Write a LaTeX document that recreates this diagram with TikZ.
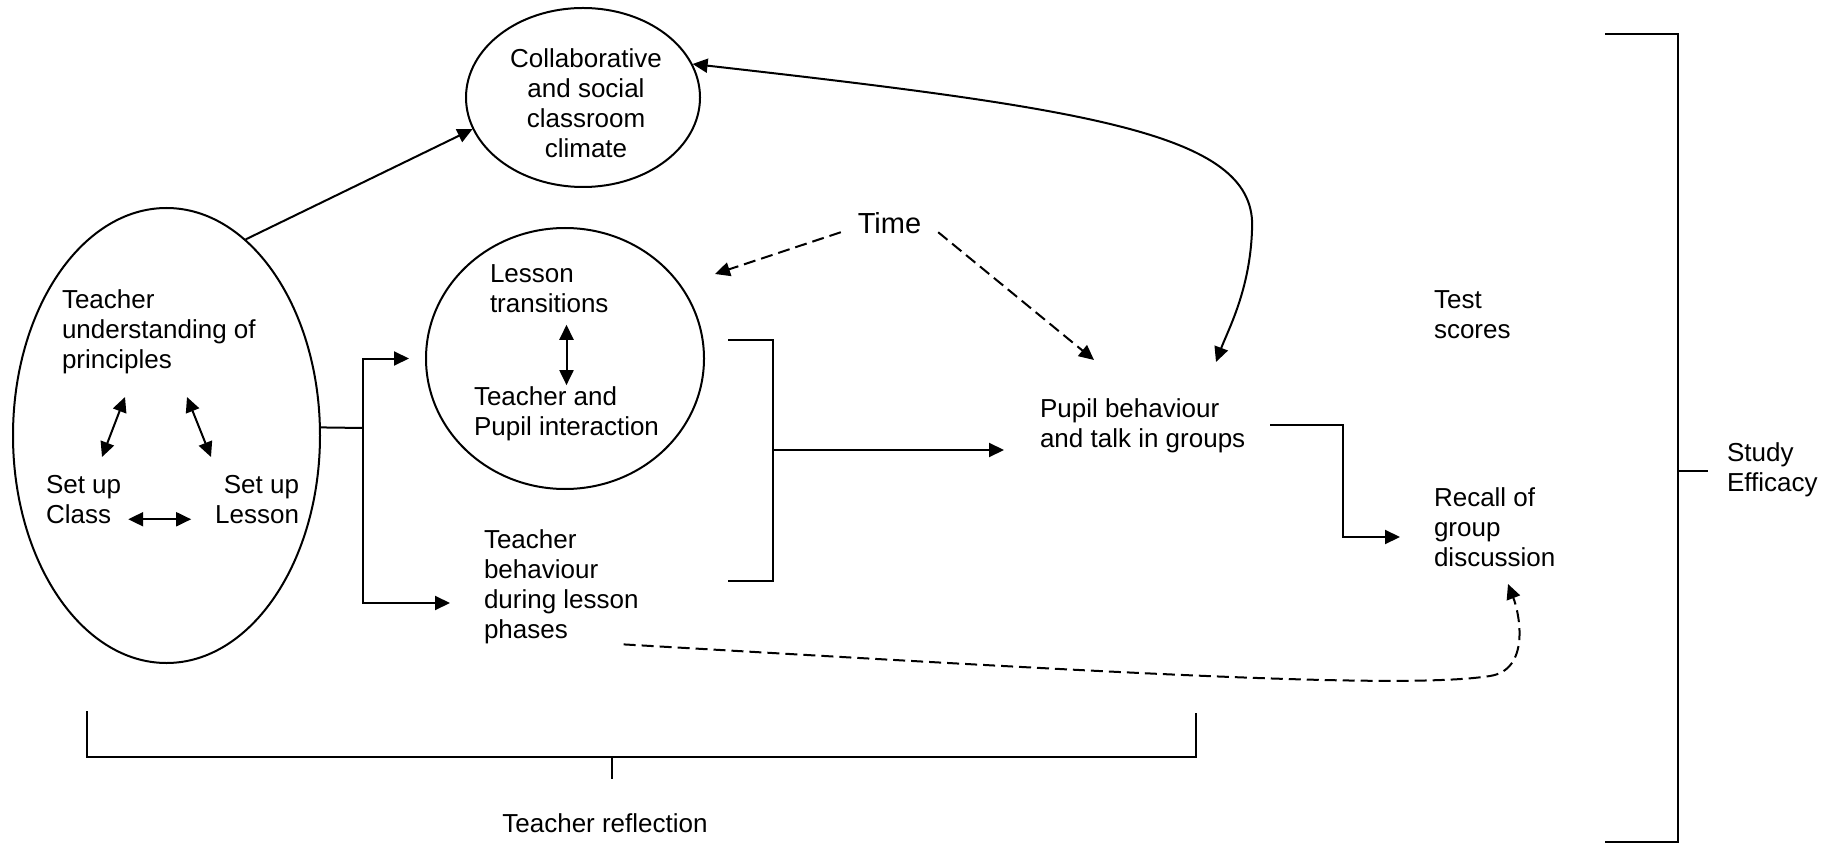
\documentclass[tikz,border=0pt]{standalone}
\usepackage{fontspec}
\setmainfont{Liberation Sans}
\usetikzlibrary{arrows.meta,shapes.geometric}

\begin{document}
\begin{tikzpicture}
      [x = 0.5pt, y = -0.5pt,
      line width = 1pt,
      arr/.style = {-{Triangle[length = 7.5pt, width = 7pt]}},
      arrs/.style = {{Triangle[length = 7.5pt, width = 7pt]}-{Triangle[length = 7.5pt, width = 7pt]}},
      dashline/.style = {dash pattern = on 6pt off 3pt},
      bubble/.style = {
         draw,
         ellipse,
         inner sep = 0pt
      },
      lbl/.style = {
         inner sep = 0pt,
         align = left,
         font = \fontsize{13pt}{15pt}\selectfont
      }]

      \useasboundingbox (0, 0) rectangle (1834, 844);

      % the three ellipses
      \node[bubble, minimum width = 153.5pt, minimum height = 227.5pt] (teach) at (166.5, 435.5) {};
      \node[bubble, minimum width = 117pt, minimum height = 89.5pt] (climate) at (583, 97.5) {};
      \node[bubble, minimum width = 139pt, minimum height = 130.5pt] (lesson) at (565, 358.5) {};

      % texts, placed by the baseline of their last line
      \node[lbl, anchor = base west] (teachU) at (61, 368) {Teacher\\understanding of\\principles};
      \node[lbl, anchor = base west] (setclass) at (45, 523) {Set up\\Class};
      \node[lbl, anchor = base east, align = right] (setlesson) at (300, 523) {Set up\\Lesson};
      \node[lbl, anchor = base, align = center] (climatetxt) at (586, 158) {Collaborative\\and social\\classroom\\climate};
      \node[lbl, anchor = base west] (lessontxt) at (489, 312.5) {Lesson\\transitions};
      \node[lbl, anchor = base west] (interact) at (473, 435) {Teacher and\\Pupil interaction};
      \node[lbl, anchor = base west] (behav) at (483, 638) {Teacher\\behaviour\\during lesson\\phases};
      \node[lbl, anchor = base, inner xsep = 8pt, inner ysep = 3pt,
            font = \fontsize{14.5pt}{17pt}\selectfont] (time) at (889.5, 234) {Time};
      \node[lbl, anchor = base west] (pupil) at (1039, 447) {Pupil behaviour\\and talk in groups};
      \node[lbl, anchor = base west] (test) at (1433, 338) {Test\\scores};
      \node[lbl, anchor = base west] (recall) at (1433, 566) {Recall of\\group\\discussion};
      \node[lbl, anchor = base west] (study) at (1726, 491) {Study\\Efficacy};
      \node[lbl, anchor = base] (reflect) at (605, 832) {Teacher reflection};

      \coordinate (fork) at (363, 428);
      \coordinate (behavIn) at (450, 603);
      \coordinate (lessonT) at (715, 274);
      \coordinate (pupilT) at (1094, 360);
      \coordinate (pupilC) at (1216, 362);
      \coordinate (brTop) at (728, 340);
      \coordinate (brBot) at (728, 581);
      \coordinate (brJoin) at (773, 450);
      \coordinate (pupilL) at (1004, 450);
      \coordinate (elbow) at (1343, 537);
      \coordinate (recallIn) at (1400, 537);
      \coordinate (recallB) at (1508, 584);
      \coordinate (c1) at (102, 457);
      \coordinate (c2) at (125, 397);
      \coordinate (l1) at (187, 397);
      \coordinate (l2) at (211, 457);

      % inside the teacher ellipse
      \draw[arrs] (c1) -- (c2);
      \draw[arrs] (l1) -- (l2);
      \draw[arrs, shorten <= 3pt, shorten >= 11.5pt] ([yshift = 2.5pt]setclass.south east) -- ([yshift = 2.5pt]setlesson.south west);
      \draw[arrs, shorten <= 5.5pt] (lessontxt.south -| interact.north) -- (interact.north);

      \draw[arr] (teach.68) -- (climate.196);
      \draw (teach.3) -- (fork);
      \draw[arr] (fork) |- ([xshift = -8pt]lesson.west);
      \draw[arr] (fork) |- (behavIn);

      \draw[arr, dashline] (time.190) -- (lessonT);
      \draw[arr, dashline] (time.350) -- (pupilT);

      \draw (brTop) -| (brJoin) |- (brBot);
      \draw[arr] (brJoin) -- (pupilL);

      \draw[arrs] (climate.17) .. controls (1100, 110) and (1258, 135) .. (1252, 230)
         .. controls (1250, 290) and (1228, 330) .. (pupilC);

      \draw[arr] ([xshift = 12pt]pupil.east) -| (elbow) -- (recallIn);
      \draw[arr, dashline] ([xshift = -8pt]behav.south east) .. controls (1100, 672) and (1400, 690) .. (1490, 676)
         .. controls (1530, 669.8) and (1520, 615) .. (recallB);

      % brackets
      \draw (87, 711) |- (1196, 757) -- (1196, 713);
      \draw (612, 757) -- (612, 779);
      \draw (1605, 34) -| (1678, 842) -- (1605, 842);
      \draw (1678, 471) -- (1708, 471);

   \end{tikzpicture}
\end{document}
